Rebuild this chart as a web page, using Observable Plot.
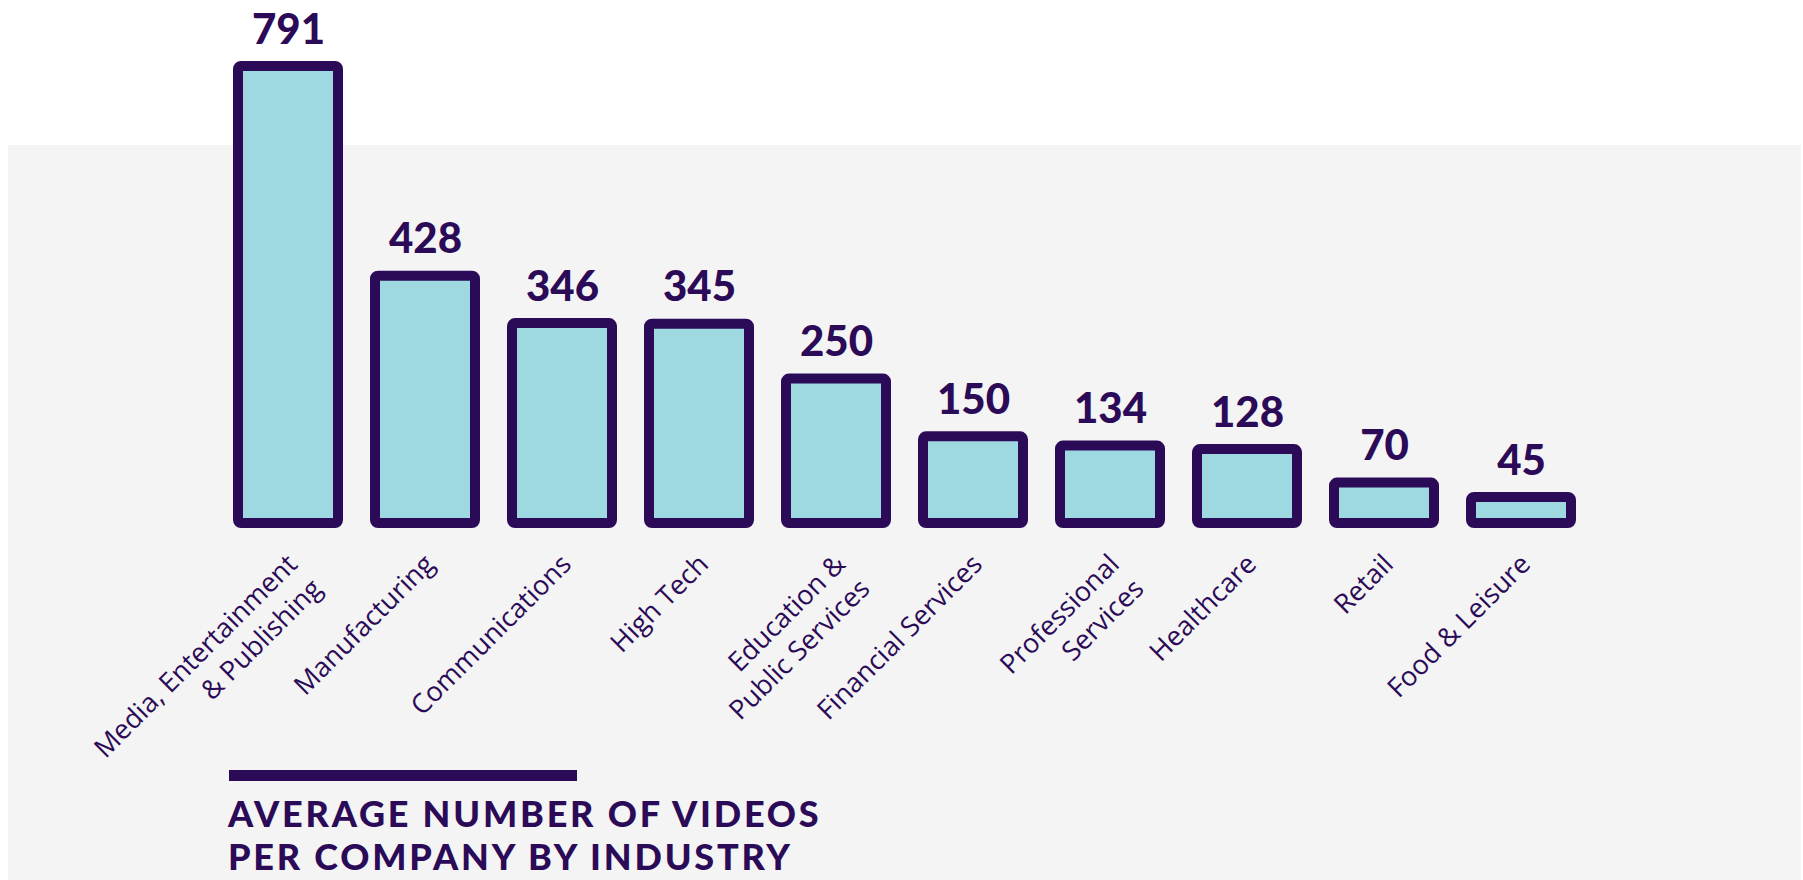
<!DOCTYPE html>
<html>
<head>
<meta charset="utf-8">
<script src="https://cdn.jsdelivr.net/npm/d3@7"></script>
<script src="https://cdn.jsdelivr.net/npm/@observablehq/plot@0.6"></script>
<style>
  html, body { margin: 0; padding: 0; background: #ffffff; }
  #wrap { position: relative; width: 1803px; height: 880px; overflow: hidden; }
  #bg { position: absolute; left: 8px; top: 145px; width: 1793px; height: 735px; background: #f4f4f4; }
  #chart { position: absolute; left: 0; top: 0; }
  #rule { position: absolute; left: 229px; top: 770px; width: 348px; height: 11px; background: #2b0b57; }
  .title { position: absolute; left: 228px; font-family: Lato, sans-serif; font-weight: 900;
           font-size: 36px; line-height: 36px; height: 36px; color: #2b0b57; letter-spacing: 2.8px; white-space: nowrap; }
  #t1 { top: 795px; }
  #t2 { top: 838px; }
</style>
</head>
<body>
<div id="wrap">
  <div id="bg"></div>
  <div id="chart"></div>
  <div id="rule"></div>
  <div id="t1" class="title">AVERAGE NUMBER OF VIDEOS</div>
  <div id="t2" class="title">PER COMPANY BY INDUSTRY</div>
</div>
<script>
const industries = [
  "Media, Entertainment\n& Publishing",
  "Manufacturing",
  "Communications",
  "High Tech",
  "Education &\nPublic Services",
  "Financial Services",
  "Professional\nServices",
  "Healthcare",
  "Retail",
  "Food & Leisure"
];
const avgVideos = [791, 428, 346, 345, 250, 150, 134, 128, 70, 45];

const data = industries.map((name, i) => ({name, value: avgVideos[i]}));

const purple = "#2b0b57";
const blue = "#9ed9e2";

const chart = Plot.plot({
  width: 1803,
  height: 760,
  marginTop: 66,
  marginBottom: 237,
  marginLeft: 201,
  marginRight: 195,
  style: {background: "transparent", overflow: "visible"},
  x: {domain: industries, padding: 0.27, axis: null},
  y: {domain: [0, 791], axis: null},
  marks: [
    Plot.barY(data, {x: "name", y: "value", fill: blue, stroke: purple, strokeWidth: 10, rx: 3}),
    Plot.text(data, {x: "name", y: "value", text: d => String(d.value), lineAnchor: "bottom", dy: -23,
      fill: purple, fontSize: 42, fontWeight: 900, fontFamily: "Lato"}),
    Plot.text(data, {x: "name", y: () => 0, text: "name", rotate: -45, textAnchor: "end", lineAnchor: "top",
      dx: -7, dy: 25, fill: purple, fontSize: 27, fontWeight: 400, fontFamily: "Open Sans", lineHeight: 1.28})
  ]
});
document.getElementById("chart").appendChild(chart);
</script>
</body>
</html>
